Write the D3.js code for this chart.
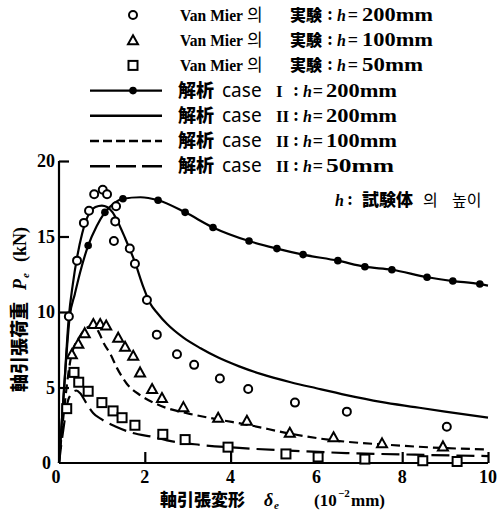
<!DOCTYPE html>
<html>
<head>
<meta charset="utf-8">
<script src="https://cdn.jsdelivr.net/npm/d3@7"></script>
<style>
  body { margin: 0; background: #fff; }
  text { fill: #000; }
  .jp { font-family: "Noto Sans CJK JP"; font-weight: 900; }
  .kr { font-family: "Noto Sans CJK KR"; font-weight: 400; }
  .ser { font-family: "Liberation Serif"; font-weight: bold; }
  .it { font-family: "Liberation Serif"; font-weight: bold; font-style: italic; }
  .cs { font-family: "Noto Sans"; font-weight: 400; }
</style>
</head>
<body>
<div id="chart-area"></div>
<script>
// tick values
const xTicks = [0, 2, 4, 6, 8, 10];
const yTicks = [0, 5, 10, 15, 20];

// Van Mier experiments [delta, P]
const exp200 = [[0.23, 9.7], [0.42, 13.4], [0.58, 15.9], [0.70, 16.7], [0.82, 17.8], [1.02, 18.1],
  [1.12, 17.8], [1.33, 17.0], [1.31, 16.0], [1.28, 14.7], [1.65, 14.2], [1.77, 13.2], [2.05, 10.8],
  [2.28, 8.5], [2.75, 7.2], [3.15, 6.5], [3.75, 5.6], [4.41, 4.9], [5.5, 4.0], [6.71, 3.4], [9.04, 2.4]];
const exp100 = [[0.3, 7.2], [0.45, 7.9], [0.6, 8.6], [0.8, 9.2], [0.96, 9.2], [1.1, 9.1], [1.38, 8.3],
  [1.54, 7.7], [1.73, 7.1], [1.89, 6.0], [2.17, 4.9], [2.4, 4.3], [2.9, 3.7], [3.71, 3.0], [4.38, 2.8],
  [5.38, 2.0], [6.4, 1.7], [7.53, 1.3], [8.95, 1.1]];
const exp50 = [[0.18, 3.6], [0.35, 6.0], [0.46, 5.35], [0.68, 4.75], [1.0, 4.0], [1.26, 3.45], [1.47, 3.0],
  [1.77, 2.5], [2.42, 1.9], [2.94, 1.55], [3.94, 1.05], [5.29, 0.6], [6.04, 0.4], [7.13, 0.26],
  [8.48, 0.15], [9.28, 0.1]];

// analysis curves
const caseI200 = [[0, 0], [0.12, 5], [0.25, 9.7], [0.37, 11.2], [0.49, 12.6], [0.68, 14.4], [0.88, 15.7],
  [1.07, 16.6], [1.28, 17.2], [1.49, 17.5], [1.9, 17.6], [2.31, 17.4], [2.94, 16.6], [3.59, 15.6],
  [4.43, 14.7], [5.08, 14.2], [5.69, 13.8], [6.5, 13.4], [7.13, 13.0], [7.76, 12.8], [8.58, 12.3],
  [9.18, 12.05], [9.81, 11.85], [10, 11.75]];
const caseIDots = [0.68, 1.07, 1.49, 2.31, 2.94, 3.59, 4.43, 5.08, 5.69, 6.5, 7.13, 7.76, 8.58, 9.18, 9.81];
const caseII200 = [[0, 0], [0.12, 5], [0.23, 9.7], [0.32, 11.8], [0.42, 13.6], [0.54, 15.2], [0.68, 16.4],
  [0.85, 16.95], [1.0, 17.05], [1.12, 16.95], [1.25, 16.6], [1.35, 16.1], [1.54, 14.9], [1.77, 13.3],
  [1.96, 11.7], [2.12, 10.6], [2.3, 9.9], [2.52, 9.2], [2.9, 8.3], [3.3, 7.6], [3.7, 7.0], [4.2, 6.4],
  [4.7, 5.9], [5.4, 5.35], [6.0, 4.95], [6.7, 4.5], [7.5, 4.05], [8.3, 3.7], [9.0, 3.4], [10, 3.0]];
const caseII100 = [[0, 0], [0.1, 3], [0.28, 7.0], [0.49, 8.4], [0.68, 9.0], [0.82, 9.1], [0.92, 8.7],
  [1.05, 7.9], [1.2, 7.2], [1.35, 6.3], [1.58, 5.25], [1.89, 4.5], [2.2, 4.0], [2.5, 3.65], [2.98, 3.3],
  [3.68, 2.9], [4.45, 2.5], [5.38, 1.95], [6.4, 1.5], [7.7, 1.2], [8.9, 1.0], [10, 0.9]];
const caseII50 = [[0, 0], [0.1, 2.2], [0.23, 4.3], [0.4, 4.8], [0.5, 4.6], [0.63, 4.0], [0.8, 3.3],
  [0.96, 2.95], [1.33, 2.4], [1.7, 2.0], [2.24, 1.7], [2.52, 1.5], [3.29, 1.2], [4.2, 1.0], [5.5, 0.8],
  [6.7, 0.66], [8.3, 0.55], [10, 0.46]];

// legend texts
const expSizes = ['200mm', '100mm', '50mm'];
const caseNames = ['I', 'II', 'II', 'II'];
const caseSizes = ['200mm', '200mm', '100mm', '50mm'];

const width = 497, height = 514;

const svg = d3.select('#chart-area')
  .append('svg')
  .attr('width', width)
  .attr('height', height);

const x = d3.scaleLinear().domain([0, 10]).range([59, 488]);
const y = d3.scaleLinear().domain([0, 20]).range([463, 161]);

// axes: thick left and bottom lines, ticks pointing inward
const yAxis = d3.axisRight(y).tickValues(yTicks.slice(1)).tickSize(10).tickFormat('');
svg.append('g')
  .attr('transform', 'translate(' + x(0) + ',0)')
  .call(yAxis)
  .call(g => g.select('.domain').attr('d', 'M0,' + y(20) + 'V' + y(0)))
  .selectAll('line, path').attr('stroke', '#000').attr('stroke-width', 2.2);

const xAxis = d3.axisTop(x).tickValues(xTicks.slice(1)).tickSize(11).tickFormat('');
svg.append('g')
  .attr('transform', 'translate(0,' + y(0) + ')')
  .call(xAxis)
  .call(g => g.select('.domain').attr('d', 'M' + x(0) + ',0H' + x(10)))
  .selectAll('line, path').attr('stroke', '#000').attr('stroke-width', 2.2);

// tick labels
svg.selectAll('.ylab').data(yTicks).enter().append('text')
  .attr('class', 'ser')
  .attr('x', d => d === 0 ? 51 : 55)
  .attr('y', d => y(d) + 6)
  .attr('text-anchor', 'end')
  .attr('font-size', 18)
  .text(d => d);

svg.selectAll('.xlab').data(xTicks).enter().append('text')
  .attr('class', 'ser')
  .attr('x', d => x(d) - (d === 0 ? 3 : 0))
  .attr('y', 483)
  .attr('text-anchor', 'middle')
  .attr('font-size', 18)
  .text(d => d);

// curves
const line = d3.line().x(d => x(d[0])).y(d => y(d[1])).curve(d3.curveMonotoneX);
const curves = [
  { data: caseI200, dash: null },
  { data: caseII200, dash: null },
  { data: caseII100, dash: '9,5' },
  { data: caseII50, dash: '18,7' }
];
svg.selectAll('.curve').data(curves).enter().append('path')
  .attr('d', d => line(d.data))
  .attr('fill', 'none')
  .attr('stroke', '#000')
  .attr('stroke-width', 2.2)
  .attr('stroke-dasharray', d => d.dash);

// dots on case I: read y off the curve
const interp = (arr, v) => {
  for (let i = 1; i < arr.length; i++) {
    if (v <= arr[i][0]) {
      const t = (v - arr[i - 1][0]) / (arr[i][0] - arr[i - 1][0]);
      return arr[i - 1][1] + t * (arr[i][1] - arr[i - 1][1]);
    }
  }
  return arr[arr.length - 1][1];
};
svg.selectAll('.dot').data(caseIDots).enter().append('circle')
  .attr('cx', d => x(d))
  .attr('cy', d => y(interp(caseI200, d)))
  .attr('r', 3.8)
  .attr('fill', '#000');

// experimental markers
const drawCircle = (g, cx, cy) => g.append('circle').attr('cx', cx).attr('cy', cy).attr('r', 4)
  .attr('fill', '#fff').attr('stroke', '#000').attr('stroke-width', 2);
const drawTri = (g, cx, cy) => g.append('path')
  .attr('d', 'M' + cx + ',' + (cy - 5) + 'L' + (cx + 5) + ',' + (cy + 4) + 'L' + (cx - 5) + ',' + (cy + 4) + 'Z')
  .attr('fill', '#fff').attr('stroke', '#000').attr('stroke-width', 2);
const drawSq = (g, cx, cy) => g.append('rect').attr('x', cx - 4.5).attr('y', cy - 4.5)
  .attr('width', 9).attr('height', 9)
  .attr('fill', '#fff').attr('stroke', '#000').attr('stroke-width', 2);

const gm = svg.append('g');
exp200.forEach(d => drawCircle(gm, x(d[0]), y(d[1])));
exp100.forEach(d => drawTri(gm, x(d[0]), y(d[1])));
exp50.forEach(d => drawSq(gm, x(d[0]), y(d[1])));

// text helper
const seg = (g, cls, px, py, str, fs, len, anchor) => {
  const t = g.append('text').attr('class', cls).attr('x', px).attr('y', py)
    .attr('font-size', fs).text(str);
  if (len) t.attr('textLength', len).attr('lengthAdjust', 'spacingAndGlyphs');
  if (anchor) t.attr('text-anchor', anchor);
  return t;
};

// legend
const lg = svg.append('g');
const rowY = i => 21 + i * 25.2;
const expDraw = [drawCircle, drawTri, drawSq];
expSizes.forEach((s, i) => {
  const ry = rowY(i);
  expDraw[i](lg, 133, ry - 6);
  seg(lg, 'ser', 180, ry, 'Van Mier', 17, 63);
  seg(lg, 'kr', 247, ry, '의', 17);
  seg(lg, 'jp', 290, ry, '実験', 16);
  seg(lg, 'ser', 330, ry - 1, ':', 18, null, 'middle');
  seg(lg, 'it', 337, ry, 'h', 16);
  seg(lg, 'ser', 353, ry, '=', 18, null, 'middle');
  seg(lg, 'ser', 362, ry, s, 18, s.length === 5 ? 71 : 61);
});
const dashes = [null, null, '9,4', '20,6'];
caseNames.forEach((c, i) => {
  const ry = rowY(i + 3);
  lg.append('line').attr('x1', 90).attr('x2', 162).attr('y1', ry - 6).attr('y2', ry - 6)
    .attr('stroke', '#000').attr('stroke-width', 2.4).attr('stroke-dasharray', dashes[i]);
  if (i === 0) lg.append('circle').attr('cx', 133).attr('cy', ry - 6).attr('r', 3.8).attr('fill', '#000');
  seg(lg, 'jp', 178, ry, '解析', 18);
  seg(lg, 'cs', 222, ry, 'case', 19);
  seg(lg, 'ser', 276, ry, c, 17);
  seg(lg, 'ser', 296, ry - 1, ':', 18, null, 'middle');
  seg(lg, 'it', 303, ry, 'h', 16);
  seg(lg, 'ser', 318, ry, '=', 18, null, 'middle');
  seg(lg, 'ser', 326, ry, caseSizes[i], 18, caseSizes[i].length === 5 ? 71 : 68);
});

// note
seg(svg, 'it', 335, 206, 'h', 16);
seg(svg, 'ser', 350, 205, ':', 18, null, 'middle');
seg(svg, 'jp', 362, 206, '試験体', 17);
seg(svg, 'kr', 423, 206, '의', 16);
seg(svg, 'kr', 452, 206, '높이', 16);

// x axis title
seg(svg, 'jp', 160, 506, '軸引張変形', 17);
seg(svg, 'it', 264, 506, 'δ', 18);
seg(svg, 'it', 274, 509, 'e', 11);
seg(svg, 'ser', 314, 506, '(10', 17);
seg(svg, 'ser', 338, 497, '−2', 11);
seg(svg, 'ser', 351, 506, 'mm)', 17);

// y axis title (rotated)
const yt = svg.append('g').attr('transform', 'translate(26,392) rotate(-90)');
seg(yt, 'jp', 0, 0, '軸引張荷重', 18);
seg(yt, 'it', 102, 0, 'P', 18);
seg(yt, 'it', 114, 3, 'e', 11);
seg(yt, 'ser', 130, 0, '(kN)', 18);
</script>
</body>
</html>
